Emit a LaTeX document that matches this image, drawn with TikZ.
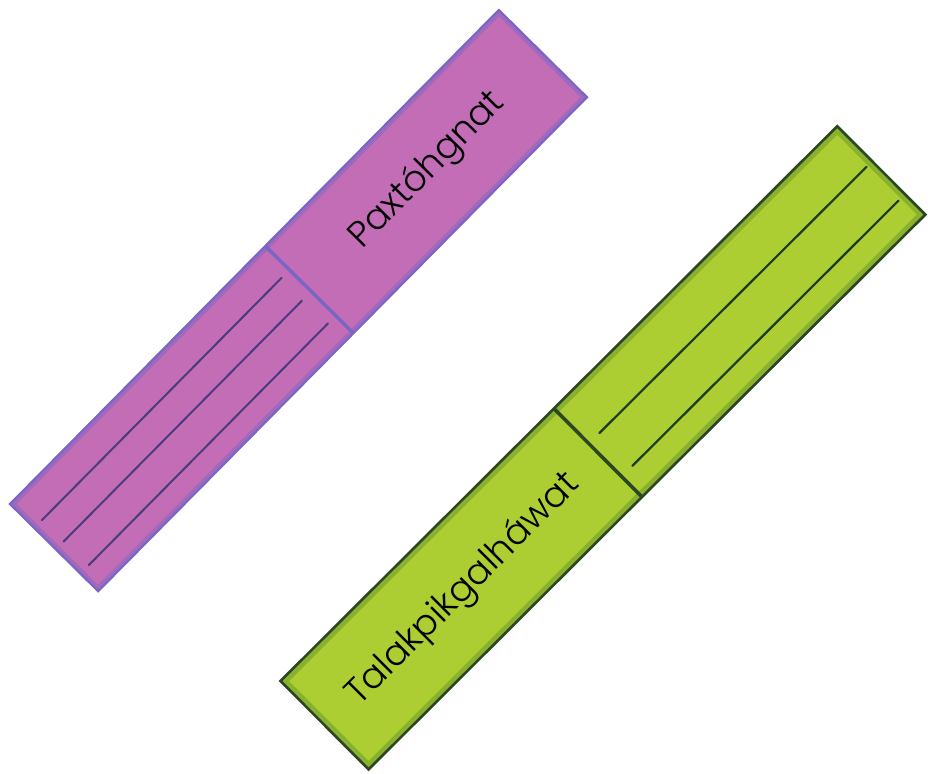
\documentclass[tikz,border=0pt]{standalone}
\usepackage{fontspec}
\IfFontExistsTF{Poppins Light}{\setmainfont{Poppins Light}}{\setmainfont{Poppins}}
\definecolor{pfill}{HTML}{C26DB6}
\definecolor{pedge}{HTML}{7A66C4}
\definecolor{pline}{HTML}{4B3C7E}
\definecolor{gfill}{HTML}{ACCE32}
\definecolor{gglow}{HTML}{6E9A2A}
\definecolor{gedge}{HTML}{2A4622}
\definecolor{gline}{HTML}{1F3A20}
\tikzset{
  ptext/.style={font=\fontsize{36}{36}\selectfont, text=black, inner sep=0pt, transform shape},
  gtext/.style={font=\fontsize{36}{36}\selectfont, text=black, inner sep=0pt, transform shape},
  pgroove/.style={draw=pline, line width=2pt, line cap=round},
  ggroove/.style={draw=gline, line width=2.2pt, line cap=round},
}
\begin{document}
\begin{tikzpicture}[x=1pt,y=1pt]
\useasboundingbox[fill=white] (0,0) rectangle (928,-773);
% purple strip
\begin{scope}[shift={(10,-504)}, rotate=45.3]
  \fill[pfill] (0,0) rectangle (695,-124);
  \begin{scope}
    \clip (0,0) rectangle (695,-124);
    \draw[pedge, opacity=0.45, line width=9pt] (0,0) rectangle (695,-124);
  \end{scope}
  \draw[pedge, line width=2.2pt] (0,0) rectangle (695,-124);
  \coordinate (pd1) at (363,0);
  \coordinate (pd2) at (363,-124);
  \draw[pedge, line width=3.5pt] (pd1) -- (pd2);
  \coordinate (pa1) at (11,-34);   \coordinate (pb1) at (352,-34);
  \coordinate (pa2) at (11,-64.5); \coordinate (pb2) at (350,-64.5);
  \coordinate (pa3) at (12,-99);   \coordinate (pb3) at (352,-99);
  \draw[pgroove] (pa1) -- (pb1);
  \draw[pgroove] (pa2) -- (pb2);
  \draw[pgroove] (pa3) -- (pb3);
  \node[ptext] (plabel) at (531,-62) {Paxtóhgnat};
\end{scope}
% green strip
\begin{scope}[shift={(280.5,-681)}, rotate=44.9]
  \fill[gfill] (0,0) rectangle (786,-124.8);
  \begin{scope}
    \clip (0,0) rectangle (786,-124.8);
    \draw[gglow, opacity=0.55, line width=12pt] (0,0) rectangle (786,-124.8);
  \end{scope}
  \draw[gedge, line width=2.6pt] (0,0) rectangle (786,-124.8);
  \coordinate (gd1) at (386,0);
  \coordinate (gd2) at (386,-124.8);
  \draw[gedge, line width=3.5pt] (gd1) -- (gd2);
  \coordinate (ga1) at (401,-49.5); \coordinate (gb1) at (778,-49.5);
  \coordinate (ga2) at (401,-96);   \coordinate (gb2) at (777,-96);
  \draw[ggroove] (ga1) -- (gb1);
  \draw[ggroove] (ga2) -- (gb2);
  \node[gtext] (glabel) at (194,-64.8) {Talakpikgalháwat};
\end{scope}
\end{tikzpicture}
\end{document}
